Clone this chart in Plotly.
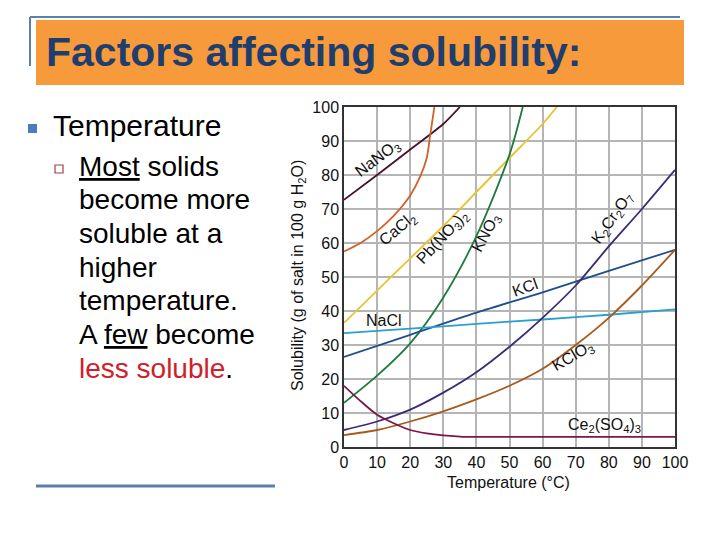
import plotly.graph_objects as go

# ---- data ----
nano3_t = [0, 10, 20, 30, 35]
nano3_s = [72.7, 80, 87.5, 95, 100]

cacl2_t = [0, 5, 10, 15, 20, 23, 25, 26, 27, 27.3]
cacl2_s = [57.5, 60, 63.5, 68, 74, 79.5, 85, 91.5, 98, 100]

pbno3_t = [0, 10, 20, 30, 40, 50, 60, 64.3]
pbno3_s = [36.5, 46, 55.5, 65, 75, 85, 95, 100]

kno3_t = [0, 10, 20, 30, 40, 50, 54]
kno3_s = [13, 21, 30.5, 44, 62, 86, 100]

kcl_t = [0, 20, 40, 60, 80, 100]
kcl_s = [26.5, 33, 39.5, 45.5, 51.8, 58]

nacl_t = [0, 20, 40, 60, 80, 100]
nacl_s = [33.5, 34.8, 36.2, 37.5, 38.9, 40.5]

k2cr2o7_t = [0, 10, 20, 30, 40, 50, 60, 70, 80, 90, 100]
k2cr2o7_s = [5, 7.5, 11, 16, 22, 29.5, 38, 47.5, 59, 70, 81.5]

kclo3_t = [0, 10, 20, 30, 40, 50, 60, 70, 80, 90, 100]
kclo3_s = [3.5, 5, 7.5, 10.5, 14, 18, 23, 30, 38, 47.5, 58]

ce2so43_t = [0, 5, 10, 15, 20, 25, 30, 36, 50, 75, 100]
ce2so43_s = [18, 13.5, 9.5, 7, 5, 4, 3.4, 3, 3, 3, 3]

x_ticks = [0, 10, 20, 30, 40, 50, 60, 70, 80, 90, 100]
y_ticks = [0, 10, 20, 30, 40, 50, 60, 70, 80, 90, 100]

series = [
    ("NaNO<sub>3</sub>", nano3_t, nano3_s, "#4a0f2c"),
    ("CaCl<sub>2</sub>", cacl2_t, cacl2_s, "#d2602a"),
    ("Pb(NO<sub>3</sub>)<sub>2</sub>", pbno3_t, pbno3_s, "#e6c42e"),
    ("KNO<sub>3</sub>", kno3_t, kno3_s, "#1e7a3c"),
    ("KCl", kcl_t, kcl_s, "#1f4f8a"),
    ("NaCl", nacl_t, nacl_s, "#2a9fd0"),
    ("K<sub>2</sub>Cr<sub>2</sub>O<sub>7</sub>", k2cr2o7_t, k2cr2o7_s, "#3b2a78"),
    ("KClO<sub>3</sub>", kclo3_t, kclo3_s, "#a65a1c"),
    ("Ce<sub>2</sub>(SO<sub>4</sub>)<sub>3</sub>", ce2so43_t, ce2so43_s, "#7a1848"),
]

# curve label positions (data coords) and rotation
labels = [
    ("NaNO<sub>3</sub>", 10.2, 85, -37),
    ("CaCl<sub>2</sub>", 16.2, 64, -40),
    ("Pb(NO<sub>3</sub>)<sub>2</sub>", 29.8, 61.7, -47),
    ("KNO<sub>3</sub>", 43.2, 63, -62),
    ("K<sub>2</sub>Cr<sub>2</sub>O<sub>7</sub>", 81, 67.3, -55),
    ("KCl", 54.6, 47, -20),
    ("NaCl", 12, 37.3, 0),
    ("KClO<sub>3</sub>", 69.2, 26.5, -30),
    ("Ce<sub>2</sub>(SO<sub>4</sub>)<sub>3</sub>", 78.8, 6.4, 0),
]

FONT = "Liberation Sans, Arial, sans-serif"

fig = go.Figure()
for name, t, s, c in series:
    fig.add_trace(go.Scatter(x=t, y=s, mode="lines", name=name,
                             line=dict(color=c, width=1.8, shape="spline", smoothing=0.8),
                             showlegend=False, cliponaxis=True))

# page has an 8px body margin; figure is sized so the page matches the reference
OFF = 8
W, H = 704, 524
L, R, T, B = 344 - OFF, W - (675 - OFF), 107 - OFF, H - (447 - OFF)
PW, PH = W - L - R, H - T - B

def px(x):
    return (x - OFF - L) / PW

def py(y):
    return (H - B - (y - OFF)) / PH

annotations = []
for text, x, y, ang in labels:
    annotations.append(dict(x=x, y=y, xref="x", yref="y", text=text, showarrow=False,
                            textangle=ang, xanchor="center", yanchor="middle",
                            font=dict(family=FONT, size=16, color="#111111")))

def pann(x, y, text, size, color="#000000", xanchor="left", angle=0):
    annotations.append(dict(x=px(x), y=py(y), xref="paper", yref="paper", text=text,
                            showarrow=False, xanchor=xanchor, yanchor="middle",
                            textangle=angle, font=dict(family=FONT, size=size, color=color)))

# axis titles
pann(298, 276, "Solubility (g of salt in 100 g H<sub>2</sub>O)", 16, "#111111", "center", -90)
pann(508, 482, "Temperature (°C)", 16, "#111111", "center")

# slide title
pann(44, 52, "<b>Factors affecting solubility:</b>", 41, "#1f3e6e")
# bullet text
pann(51, 125, "Temperature", 30)
sub_lines = ["<u>Most</u> solids", "become more", "soluble at a", "higher",
             "temperature.", "A <u>few</u> become",
             "<span style='color:#d0202a'>less soluble</span>."]
for i, line in enumerate(sub_lines):
    pann(77, 166 + i * 33.7, line, 28)

def prect(x0, x1, y0, y1, **kw):
    return dict(type="rect", xref="paper", yref="paper", x0=px(x0), x1=px(x1),
                y0=py(y1), y1=py(y0), **kw)

def pline(x0, y0, x1, y1, color, width):
    return dict(type="line", xref="paper", yref="paper", x0=px(x0), x1=px(x1),
                y0=py(y0), y1=py(y1), line=dict(color=color, width=width))

shapes = [
    prect(36, 684, 20, 85, fillcolor="#f79a3c", line=dict(width=0), layer="below"),
    pline(30, 17, 680, 17, "#5a7fa8", 2),
    pline(30, 17, 30, 66, "#5a7fa8", 2),
    prect(28, 37, 124, 133, fillcolor="#4a7cc0", line=dict(width=0)),
    prect(55, 63, 165, 173, fillcolor="white", line=dict(color="#a04048", width=1.2)),
    pline(36, 486, 275, 486, "#5a7fa8", 3),
]

fig.update_layout(
    width=W, height=H,
    margin=dict(l=L, r=R, t=T, b=B),
    paper_bgcolor="white", plot_bgcolor="white",
    annotations=annotations, shapes=shapes,
    xaxis=dict(range=[0, 100], tickvals=x_ticks, showgrid=True, gridcolor="#b5b5b5", gridwidth=1.5,
               showline=True, linecolor="#333333", linewidth=1.5, mirror=True, zeroline=False,
               ticks="", tickfont=dict(family=FONT, size=16, color="#111111")),
    yaxis=dict(range=[0, 100], tickvals=y_ticks, showgrid=True, gridcolor="#b5b5b5", gridwidth=1.5,
               showline=True, linecolor="#333333", linewidth=1.5, mirror=True, zeroline=False,
               ticks="", tickfont=dict(family=FONT, size=16, color="#111111")),
)

fig.write_html("out.html")
